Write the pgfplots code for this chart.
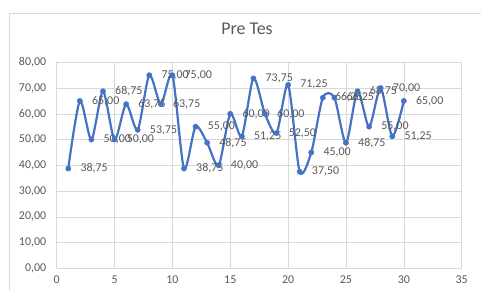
\documentclass[border=0pt]{standalone}
\usepackage{pgfplots}
\pgfplotsset{compat=1.18}
\usepackage{fontspec}
\setmainfont{Carlito}
\definecolor{exblue}{HTML}{4472C4}
\definecolor{txtgray}{HTML}{595959}
\definecolor{gridgray}{HTML}{D9D9D9}
\begin{document}
\begin{tikzpicture}[x=1bp,y=1bp]
\path[use as bounding box] (-56.7bp,-22.7bp) rectangle (424.3bp,268.3bp);
\draw[gridgray, line width=0.7pt] (-47.2bp,-30bp) -- (-47.2bp,255.3bp) -- (430bp,255.3bp);
\begin{axis}[
  at={(0,0)}, anchor=south west,
  scale only axis, width=405bp, height=206bp,
  xmin=0, xmax=35, ymin=0, ymax=80,
  xtick={0,5,...,35}, ytick={0,10,...,80},
  grid=major, major grid style={gridgray, line width=0.6pt},
  axis line style={draw=none},
  axis x line*=bottom, axis y line*=left,
  tick style={draw=none},
  /pgf/number format/.cd, assume math mode=true,
  /pgfplots/.cd,
  yticklabel style={/pgf/number format/.cd, fixed, fixed zerofill, precision=2, use comma, /tikz/.cd, font=\fontsize{12}{13}\selectfont, text=txtgray, xshift=-7bp},
  xticklabel style={font=\fontsize{12}{13}\selectfont, text=txtgray, yshift=-4bp},
  title={Pre Tes},
  title style={at={(0.470,1.1325)}, anchor=center, font=\fontsize{18}{20}\selectfont, text=txtgray},
  clip=false,
]
\draw[gridgray, line width=0.8pt] (axis cs:0,0) -- (axis cs:35,0);
\addplot[exblue, line width=2.2pt, smooth, tension=0.45, mark=*, mark size=2.6pt,
  mark options={fill=exblue, draw=exblue, line width=0.5pt},
  nodes near coords,
  nodes near coords style={/pgf/number format/.cd, fixed, fixed zerofill, precision=2, use comma, assume math mode=true, /tikz/.cd, anchor=west, inner sep=0pt, xshift=12bp, font=\fontsize{12}{13}\selectfont, text=txtgray},
] coordinates {
(1,38.75) (2,65) (3,50) (4,68.75) (5,50) (6,63.75) (7,53.75) (8,75) (9,63.75) (10,75)
(11,38.75) (12,55) (13,48.75) (14,40) (15,60) (16,51.25) (17,73.75) (18,60) (19,52.5) (20,71.25)
(21,37.5) (22,45) (23,66.25) (24,66.25) (25,48.75) (26,68.75) (27,55) (28,70) (29,51.25) (30,65)
};
\end{axis}
\end{tikzpicture}
\end{document}
